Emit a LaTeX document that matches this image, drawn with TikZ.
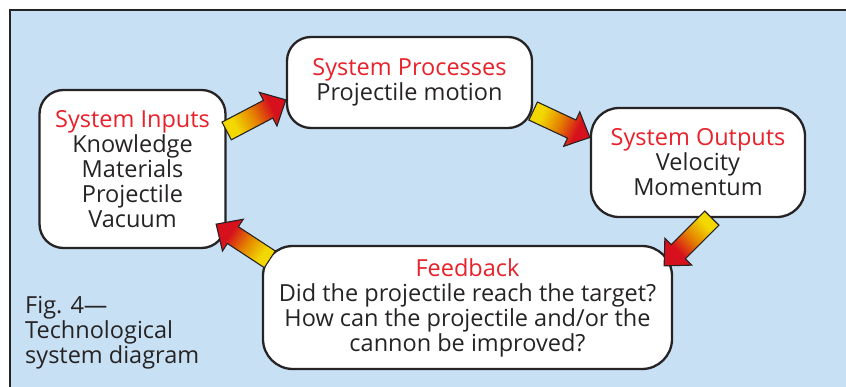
\documentclass[tikz,border=0pt]{standalone}
\usepackage{fontspec}
\setmainfont{Open Sans}
\usepackage{tikz}
\usetikzlibrary{calc}

\definecolor{panelblue}{HTML}{C8E0F4}
\definecolor{headred}{HTML}{E8212B}
\definecolor{inkgray}{HTML}{262324}
\definecolor{arrowyellow}{HTML}{F2D800}
\definecolor{arroworange}{HTML}{E48000}
\definecolor{arrowred}{HTML}{D6101C}
\pgfdeclarehorizontalshading{arrowshade}{100bp}{color(0bp)=(arrowyellow); color(32bp)=(arrowyellow);
   color(50bp)=(arroworange); color(67bp)=(arrowred); color(100bp)=(arrowred)}
\newcommand{\boxhead}[1]{{\color{headred}#1}}

\begin{document}
\begin{tikzpicture}[x=1pt, y=-1pt,
   box/.style={draw=inkgray, line width=2.3pt, fill=white, rounded corners=#1,
      align=center, inner sep=0pt, text=inkgray, font=\fontsize{23.5}{25}\selectfont},
   barrow/.style={draw=inkgray, line width=1.1pt, line join=miter,
      shading=arrowshade, shading angle=#1,
      to path={($(\tikztostart)!10pt!90:(\tikztotarget)$)
         -- ($($(\tikztotarget)!20pt!(\tikztostart)$)!10pt!-90:(\tikztostart)$)
         -- ($($(\tikztotarget)!20pt!(\tikztostart)$)!19pt!-90:(\tikztostart)$)
         -- (\tikztotarget)
         -- ($($(\tikztotarget)!20pt!(\tikztostart)$)!19pt!90:(\tikztostart)$)
         -- ($($(\tikztotarget)!20pt!(\tikztostart)$)!10pt!90:(\tikztostart)$)
         -- ($(\tikztostart)!10pt!-90:(\tikztotarget)$) -- cycle}}]
   \useasboundingbox (0,0) rectangle (846,387);
   \fill[panelblue] (10,10) rectangle (846,387);
   \draw[inkgray, line width=2pt] (10,387) -- (10,10) -- (846,10);

   \node(In)[box=24pt, minimum width=186pt, minimum height=158pt] at (132.5,169)
      {\boxhead{System Inputs}\\Knowledge\\Materials\\Projectile\\Vacuum};
   \node(Proc)[box=24pt, minimum width=245pt, minimum height=91pt] at (409.5,82.5)
      {\boxhead{System Processes}\\Projectile motion};
   \node(Out)[box=28pt, minimum width=214pt, minimum height=109pt] at (698,162.5)
      {\boxhead{System Outputs}\\Velocity\\Momentum};
   \node(FB)[box=30pt, minimum width=409pt, minimum height=123pt] at (467.5,307.5)
      {\boxhead{Feedback}\\Did the projectile reach the target?\\How can the projectile and/or the\\cannon be improved?};

   \node(Cap)[anchor=north west, align=left, inner sep=0pt, text=inkgray,
      font=\fontsize{23.5}{25}\selectfont] at (25,296) {Fig. 4—\\Technological\\system diagram};

   \path[barrow=27] (In.22) to (Proc.188);
   \path[barrow=-24] (Proc.-13) to (Out.167);
   \path[barrow=224] (Out.-76) to ($(FB.north east)+(-9,21)$);
   \path[barrow=146] ($(FB.north west)+(8,14.5)$) to ($(In.south east)+(-10.5,-25)$);

\end{tikzpicture}
\end{document}
